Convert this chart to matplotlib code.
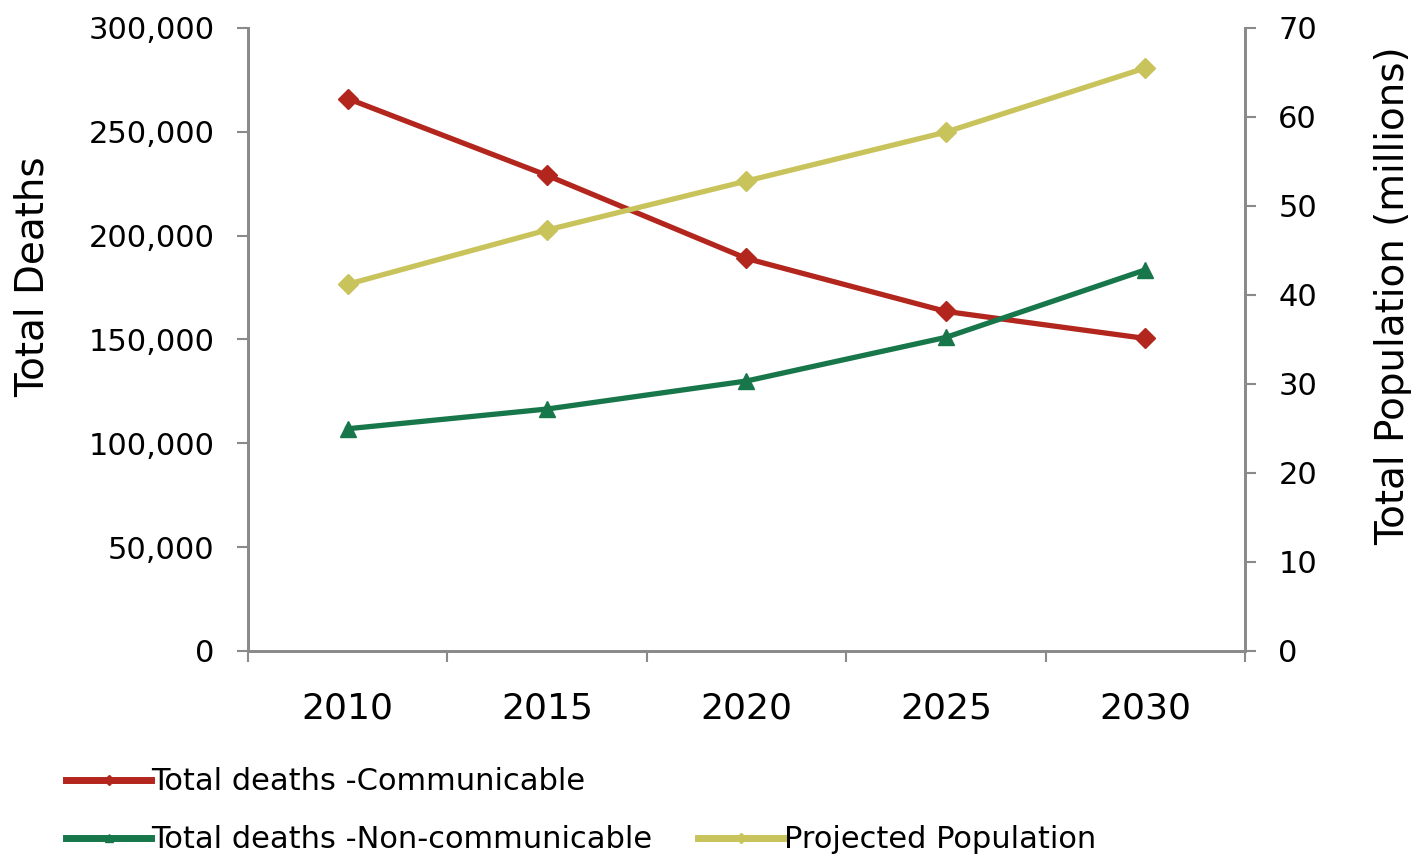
import numpy as np
import matplotlib.pyplot as plt
from matplotlib.lines import Line2D
from matplotlib.ticker import FuncFormatter

plt.rcParams['font.family'] = ['DejaVu Sans']

# data
years = ['2010', '2015', '2020', '2025', '2030']
deaths_comm = [266000, 229000, 189000, 163500, 150500]
deaths_noncomm = [107000, 116500, 130000, 151000, 183500]
population = [41.2, 47.3, 52.8, 58.3, 65.5]

red = '#B3261E'
green = '#17774A'
yellow = '#C9C35B'
axis_gray = '#8A8A8A'

x = np.arange(len(years))

fig = plt.figure(figsize=(14.17, 8.63), dpi=100)
ax = fig.add_axes([0.175, 0.2457, 0.7036, 0.7219])
ax2 = ax.twinx()

l1, = ax.plot(x, deaths_comm, color=red, lw=3.8, marker='D', ms=10, label='Total deaths -Communicable')
l2, = ax.plot(x, deaths_noncomm, color=green, lw=3.8, marker='^', ms=12, label='Total deaths -Non-communicable')
l3, = ax2.plot(x, population, color=yellow, lw=3.8, marker='D', ms=10, label='Projected Population')

ax.set_xlim(-0.5, len(years) - 0.5)
ax.set_ylim(0, 300000)
ax2.set_ylim(0, 70)
ax.set_yticks(np.arange(0, 300001, 50000))
ax2.set_yticks(np.arange(0, 71, 10))
ax.yaxis.set_major_formatter(FuncFormatter(lambda v, p: '{:,.0f}'.format(v)))

# category axis: ticks between categories, labels centred
ax.set_xticks(np.arange(len(years) + 1) - 0.5)
ax.set_xticklabels([])
ax.set_xticks(x, minor=True)
ax.set_xticklabels(years, minor=True)
ax.tick_params(axis='x', which='minor', length=0, pad=29, labelsize=26)
ax.tick_params(axis='x', which='major', length=8, color=axis_gray, width=1.5)
ax.tick_params(axis='y', length=8, color=axis_gray, width=1.5, labelsize=22, pad=16)
ax2.tick_params(axis='y', length=8, color=axis_gray, width=1.5, labelsize=22, pad=16)

for a in (ax, ax2):
    a.spines['top'].set_visible(False)
    for s in ('left', 'right', 'bottom'):
        a.spines[s].set_color(axis_gray)
        a.spines[s].set_linewidth(2)

ax.set_ylabel('Total Deaths', fontsize=28)
ax2.set_ylabel('Total Population (millions)', fontsize=28)
ax.yaxis.set_label_coords(-0.197, 0.60)
ax2.yaxis.set_label_coords(1.13, 0.57)

blank = Line2D([], [], alpha=0)
leg = fig.legend([l1, l2, blank, l3],
                 [l1.get_label(), l2.get_label(), '', l3.get_label()],
                 ncol=2, loc='lower left', bbox_to_anchor=(0.027, -0.022),
                 frameon=False, fontsize=22, handlelength=2.8, handletextpad=0.0,
                 columnspacing=1.5, labelspacing=0.95, markerscale=0.5)
for h in leg.legend_handles:
    h.set_linewidth(5)

fig.savefig('out.png', dpi=100)
